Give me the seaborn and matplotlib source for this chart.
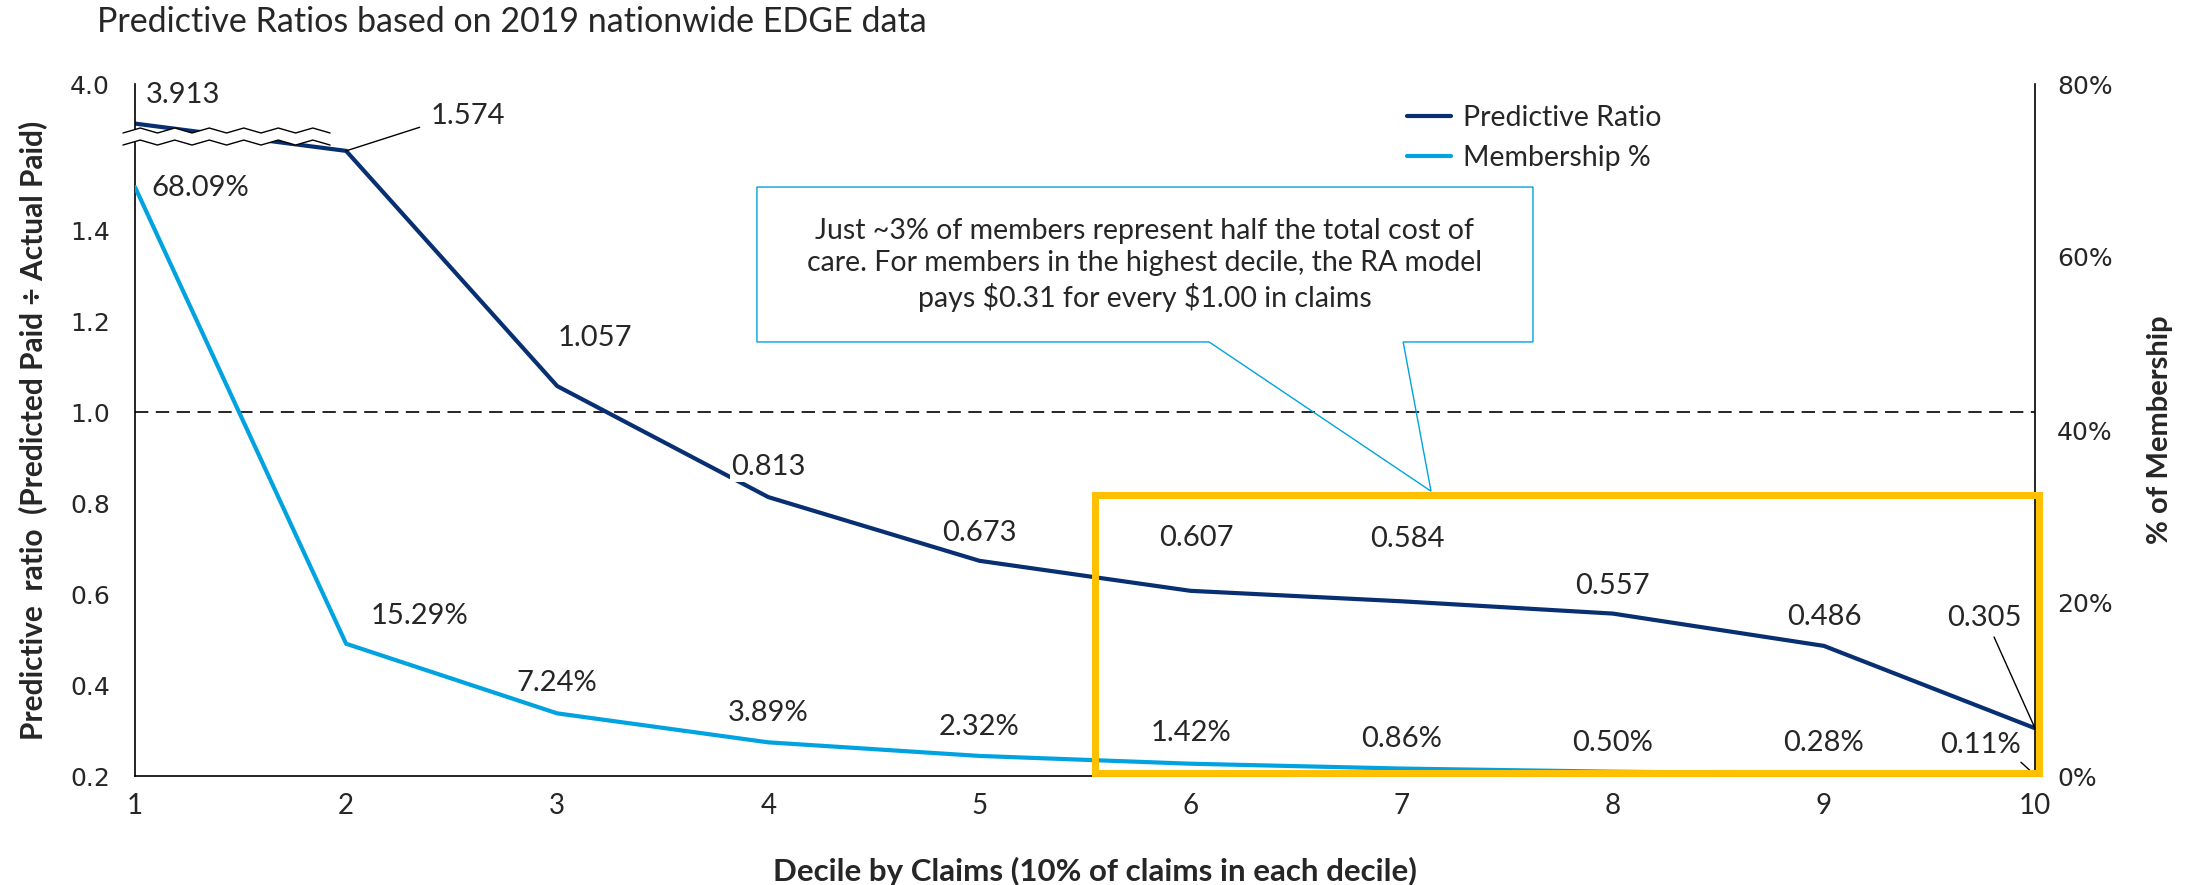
import numpy as np
import matplotlib
matplotlib.use("Agg")
import matplotlib.pyplot as plt
import seaborn as sns
from matplotlib.patches import Rectangle, Polygon
from matplotlib.transforms import blended_transform_factory

# ---------------- data ----------------
deciles = [1, 2, 3, 4, 5, 6, 7, 8, 9, 10]
predictive_ratio = [3.913, 1.574, 1.057, 0.813, 0.673, 0.607, 0.584, 0.557, 0.486, 0.305]
membership_pct = [68.09, 15.29, 7.24, 3.89, 2.32, 1.42, 0.86, 0.50, 0.28, 0.11]
pr_labels = ["3.913", "1.574", "1.057", "0.813", "0.673", "0.607", "0.584", "0.557", "0.486", "0.305"]
mem_labels = ["68.09%", "15.29%", "7.24%", "3.89%", "2.32%", "1.42%", "0.86%", "0.50%", "0.28%", "0.11%"]
left_ticks = [0.2, 0.4, 0.6, 0.8, 1.0, 1.2, 1.4, 4.0]
left_tick_labels = ["0.2", "0.4", "0.6", "0.8", "1.0", "1.2", "1.4", "4.0"]
right_ticks = [0, 20, 40, 60, 80]
right_tick_labels = ["0%", "20%", "40%", "60%", "80%"]
series_names = ["Predictive Ratio", "Membership %"]
title = "Predictive Ratios based on 2019 nationwide EDGE data"
callout = ("Just ~3% of members represent half the total cost of\n"
           "care. For members in the highest decile, the RA model\n"
           "pays \\$0.31 for every \\$1.00 in claims")

# label offsets (pixels, y up) -- layout only
pr_off = [(48, 29), (122, 35), (38, 48), (0, 30), (0, 28), (6, 53), (6, 62), (0, 28), (0, 29), (-51, 110)]
mem_off = [(65, -1), (73, 28), (0, 30), (0, 29), (0, 29), (0, 31), (0, 30), (0, 29), (0, 31), (-55, 30)]

DARK = "#072F72"
LIGHT = "#00A3E0"
GOLD = "#FFC000"

sns.set_style("white")
plt.rcParams["font.family"] = ["Lato", "DejaVu Sans"]

W, H = 2185, 885
fig = plt.figure(figsize=(W / 100, H / 100), dpi=100)
ax = fig.add_axes([135 / W, 1 - 776 / H, 1900 / W, 692 / H])

# broken left axis via a piecewise scale
A, B, EPS = 1.6, 3.89, 0.011
def fwd(y):
    y = np.asarray(y, float)
    return np.where(y <= A, y, np.where(y >= B, y - B + A + EPS, A + (y - A) * EPS / (B - A)))
def inv(t):
    t = np.asarray(t, float)
    return np.where(t <= A, t, np.where(t >= A + EPS, t + B - A - EPS, A + (t - A) * (B - A) / EPS))
ax.set_yscale("function", functions=(fwd, inv))

sns.lineplot(x=deciles, y=predictive_ratio, ax=ax, color=DARK, linewidth=3, legend=False)
l1 = ax.lines[0]
ax.axhline(1.0, color="black", lw=1.2, ls=(0, (8, 4.5)), zorder=1)
ax.set_xlim(1, 10)
ax.set_ylim(0.2, 4.0)
ax.set_xticks(deciles)
ax.set_yticks(left_ticks, labels=left_tick_labels)
ax.tick_params(axis="y", length=0, pad=18, labelsize=18, labelfontfamily="DejaVu Sans")
ax.tick_params(axis="x", length=0, pad=12, labelsize=20)
for s in ["top", "right"]:
    ax.spines[s].set_visible(False)
for s in ["left", "bottom"]:
    ax.spines[s].set_color("black")
    ax.spines[s].set_linewidth(1.2)
ax.set_xlabel("")
ax.set_ylabel("")

ax2 = ax.twinx()
sns.lineplot(x=deciles, y=membership_pct, ax=ax2, color=LIGHT, linewidth=3, legend=False)
l2 = ax2.lines[0]
ax2.set_ylim(0, 80)
ax2.set_yticks(right_ticks, labels=right_tick_labels)
ax2.tick_params(axis="y", length=0, pad=16, labelsize=18, labelfontfamily="DejaVu Sans")
for s in ["top", "left", "bottom"]:
    ax2.spines[s].set_visible(False)
ax2.spines["right"].set_color("black")
ax2.spines["right"].set_linewidth(1.2)
ax2.set_ylabel("")

# data labels
lead = dict(arrowstyle="-", color="black", lw=1.0)
for i, (x, v, t, o) in enumerate(zip(deciles, predictive_ratio, pr_labels, pr_off)):
    kw = {}
    if i == 1:
        kw["arrowprops"] = dict(lead, relpos=(0, 0.2), shrinkA=6, shrinkB=0)
    if i == 9:
        kw["arrowprops"] = dict(lead, relpos=(0.6, 0.0), shrinkA=2, shrinkB=0)
    if i == 3:
        kw["bbox"] = dict(boxstyle="square,pad=0.05", fc="white", ec="none")
    ax.annotate(t, xy=(x, v), xytext=o, textcoords="offset pixels",
                ha="center", va="center", fontsize=21, zorder=6, **kw)
for i, (x, v, t, o) in enumerate(zip(deciles, membership_pct, mem_labels, mem_off)):
    kw = {}
    if i == 9:
        kw["arrowprops"] = dict(lead, relpos=(0.95, 0.0), shrinkA=1, shrinkB=5)
    ax2.annotate(t, xy=(x, v), xytext=o, textcoords="offset pixels",
                 ha="center", va="center", fontsize=21, zorder=6, **kw)

# highlight box
ax2.add_patch(Rectangle((5.548, 0.2066), 10.02 - 5.548, 0.818 - 0.2066,
                        transform=ax.transData, fill=False, ec=GOLD, lw=5,
                        joinstyle="miter", zorder=8, clip_on=False))

# callout
x0, x1, yt, yb = 3.946, 7.622, 1.4945, 1.154
b1, b2, tipx, tipy = 6.088, 7.007, 7.139, 0.826
ax2.add_patch(Polygon([(x0, yt), (x1, yt), (x1, yb), (b2, yb), (tipx, tipy), (b1, yb), (x0, yb)],
                      closed=True, transform=ax.transData, fc="none", ec=LIGHT, lw=1.0,
                      zorder=9, clip_on=False))
ax2.text((x0 + x1) / 2, 1.323, callout, transform=ax.transData, ha="center", va="center",
         fontsize=20.5, linespacing=1.28, zorder=10)

# axis break marks
tr = blended_transform_factory(ax.transData, ax.transAxes)
xs = np.linspace(0.943, 1.924, 13)
pat = np.array([(-1) ** (k + 1) for k in range(len(xs))])
amp = 0.0036
ytop = 0.9328 + amp * pat
ybot = 0.9154 + amp * pat
band = np.vstack([np.column_stack([xs, ytop]), np.column_stack([xs[::-1], ybot[::-1]])])
ax2.add_patch(Polygon(band, closed=True, transform=tr, fc="white", ec="none", zorder=11, clip_on=False))
ax2.plot(xs, ytop, transform=tr, color="black", lw=1.0, zorder=12, clip_on=False)
ax2.plot(xs, ybot, transform=tr, color="black", lw=1.0, zorder=12, clip_on=False)

# legend
fig.legend([l1, l2], series_names, loc="center left", bbox_to_anchor=(1407 / W, 1 - 138 / H),
           frameon=False, borderpad=0, borderaxespad=0, handlelength=1.55, handletextpad=0.43,
           labelspacing=0.5, fontsize=20.5)

# texts
fig.text(97 / W, 1 - 22 / H, title, ha="left", va="center", fontsize=24.5)
fig.text(33 / W, 1 - 430 / H, "Predictive  ratio  (Predicted Paid \u00f7 Actual Paid)",
         rotation=90, ha="center", va="center", fontsize=21.5, fontweight="bold")
fig.text(2160 / W, 1 - 430 / H, "% of Membership", rotation=90, ha="center", va="center",
         fontsize=21, fontweight="bold")
fig.text(1095 / W, 1 - 871 / H, "Decile by Claims (10% of claims in each decile)",
         ha="center", va="center", fontsize=22.5, fontweight="bold")

fig.savefig("out.png", dpi=100)
